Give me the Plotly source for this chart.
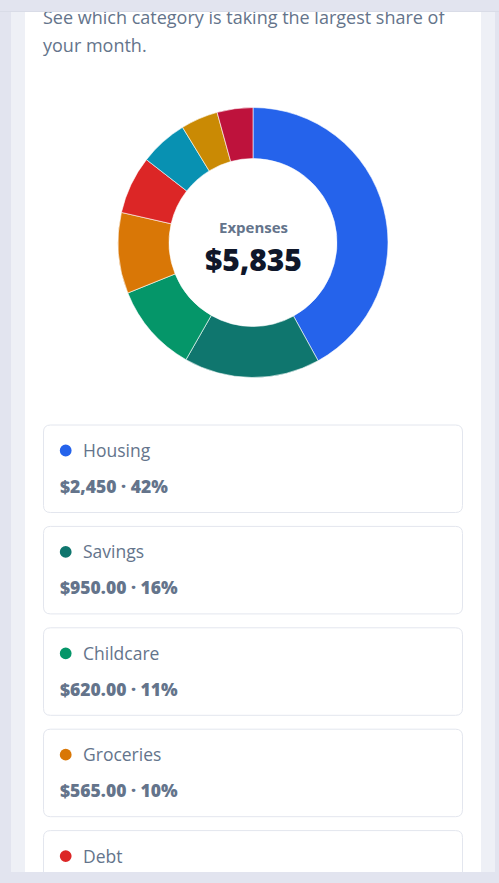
import plotly.graph_objects as go

# ---- data ----
categories = ["Housing", "Savings", "Childcare", "Groceries", "Debt",
              "Transportation", "Utilities", "Other"]
amounts = [2450, 950, 620, 565, 405, 335, 260, 250]
colors = ["#2563eb", "#0f766e", "#059669", "#d97706", "#dc2626",
          "#0891b2", "#ca8a04", "#be123c"]
center_label = "Expenses"
subtitle_lines = ["See which category is taking the largest share of", "your month."]

W, H = 499, 883
total = sum(amounts)

def fmt_amount(v):
    return f"${v:,.0f}" if v >= 1000 else f"${v:,.2f}"

FONT = "Open Sans, Noto Sans, sans-serif"
SLATE = "#64748b"

fig = go.Figure()

# donut
cx, cy, r = 253, 242.5, 135
fig.add_trace(go.Pie(
    labels=categories, values=amounts, sort=False, direction="clockwise",
    rotation=0, hole=0.622, textinfo="none",
    marker=dict(colors=colors, line=dict(color="white", width=0.6)),
    domain=dict(x=[(cx - r) / W, (cx + r) / W], y=[1 - (cy + r) / H, 1 - (cy - r) / H]),
    showlegend=False, hoverinfo="label+value+percent",
))

# content area axis (pixel coordinates), clipped between y=12 and y=872
top_px, bot_px = 12, 872
fig.update_layout(
    xaxis=dict(domain=[0, 1], range=[0, W], visible=False, fixedrange=True),
    yaxis=dict(domain=[(H - bot_px) / H, (H - top_px) / H], range=[bot_px, top_px],
               visible=False, fixedrange=True),
)

shapes = [
    dict(type="rect", xref="paper", yref="paper", x0=11 / W, x1=495 / W,
         y0=(H - bot_px) / H, y1=(H - top_px) / H, fillcolor="#eef0f6", line_width=0, layer="below"),
    dict(type="rect", xref="paper", yref="paper", x0=25 / W, x1=481 / W,
         y0=(H - bot_px) / H, y1=(H - top_px) / H, fillcolor="#ffffff", line_width=0, layer="below"),
    dict(type="line", xref="paper", yref="paper", x0=0, x1=1,
         y0=(H - 11.5) / H, y1=(H - 11.5) / H, line=dict(color="#d9dce7", width=1), layer="below"),
]

# subtitle (clipped at the top edge)
fs_sub = 18
fig.add_trace(go.Scatter(
    x=[43, 43], y=[24 - 0.25 * fs_sub, 52 - 0.25 * fs_sub], mode="text",
    text=subtitle_lines, textposition="middle right",
    textfont=dict(family=FONT, size=fs_sub, color=SLATE),
    cliponaxis=True, hoverinfo="skip", showlegend=False, xaxis="x", yaxis="y",
))

# cards
card_top0, pitch, card_h = 425, 101.4, 87.5
rad = 7
lab_y, val_y = [], []
lab_t, val_t = [], []
fs_lab, fs_val = 17.5, 17.5
for i, (cat, amt, col) in enumerate(zip(categories, amounts, colors)):
    t = card_top0 + i * pitch
    x0, x1, y0, y1 = 43.5, 462.5, t, t + card_h
    path = (f"M {x0+rad},{y0} L {x1-rad},{y0} Q {x1},{y0} {x1},{y0+rad} "
            f"L {x1},{y1-rad} Q {x1},{y1} {x1-rad},{y1} L {x0+rad},{y1} "
            f"Q {x0},{y1} {x0},{y1-rad} L {x0},{y0+rad} Q {x0},{y0} {x0+rad},{y0} Z")
    shapes.append(dict(type="path", xref="x", yref="y", path=path, fillcolor="white",
                       line=dict(color="#e3e6ee", width=1), layer="below"))
    shapes.append(dict(type="circle", xref="x", yref="y", x0=59.8, x1=71.6,
                       y0=t + 25.5 - 5.9, y1=t + 25.5 + 5.9, fillcolor=col,
                       line_width=0, layer="below"))
    lab_t.append(cat)
    lab_y.append(t + 32 - 0.25 * fs_lab)
    val_t.append(f"{fmt_amount(amt)} · {round(100 * amt / total)}%")
    val_y.append(t + 68 - 0.25 * fs_val)

fig.add_trace(go.Scatter(
    x=[83] * len(lab_t), y=lab_y, mode="text", text=lab_t, textposition="middle right",
    textfont=dict(family=FONT, size=fs_lab, color=SLATE),
    cliponaxis=True, hoverinfo="skip", showlegend=False,
))
fig.add_trace(go.Scatter(
    x=[60] * len(val_t), y=val_y, mode="text", text=val_t, textposition="middle right",
    textfont=dict(family=FONT, size=fs_val, color=SLATE, weight=800),
    cliponaxis=True, hoverinfo="skip", showlegend=False,
))

annotations = [
    dict(text=center_label, x=cx, y=226.5, xref="x", yref="y",
         showarrow=False, font=dict(family=FONT, size=15, color=SLATE, weight=700)),
    dict(text=f"${total:,.0f}", x=cx, y=259.5, xref="x", yref="y",
         showarrow=False, font=dict(family=FONT, size=30, color="#0f172a", weight=800)),
]

fig.update_layout(
    width=W, height=H, margin=dict(l=0, r=0, t=0, b=0),
    paper_bgcolor="#e2e4ef", plot_bgcolor="rgba(0,0,0,0)",
    shapes=shapes, annotations=annotations, showlegend=False,
)

fig.write_html("out.html", config={"displayModeBar": False})
